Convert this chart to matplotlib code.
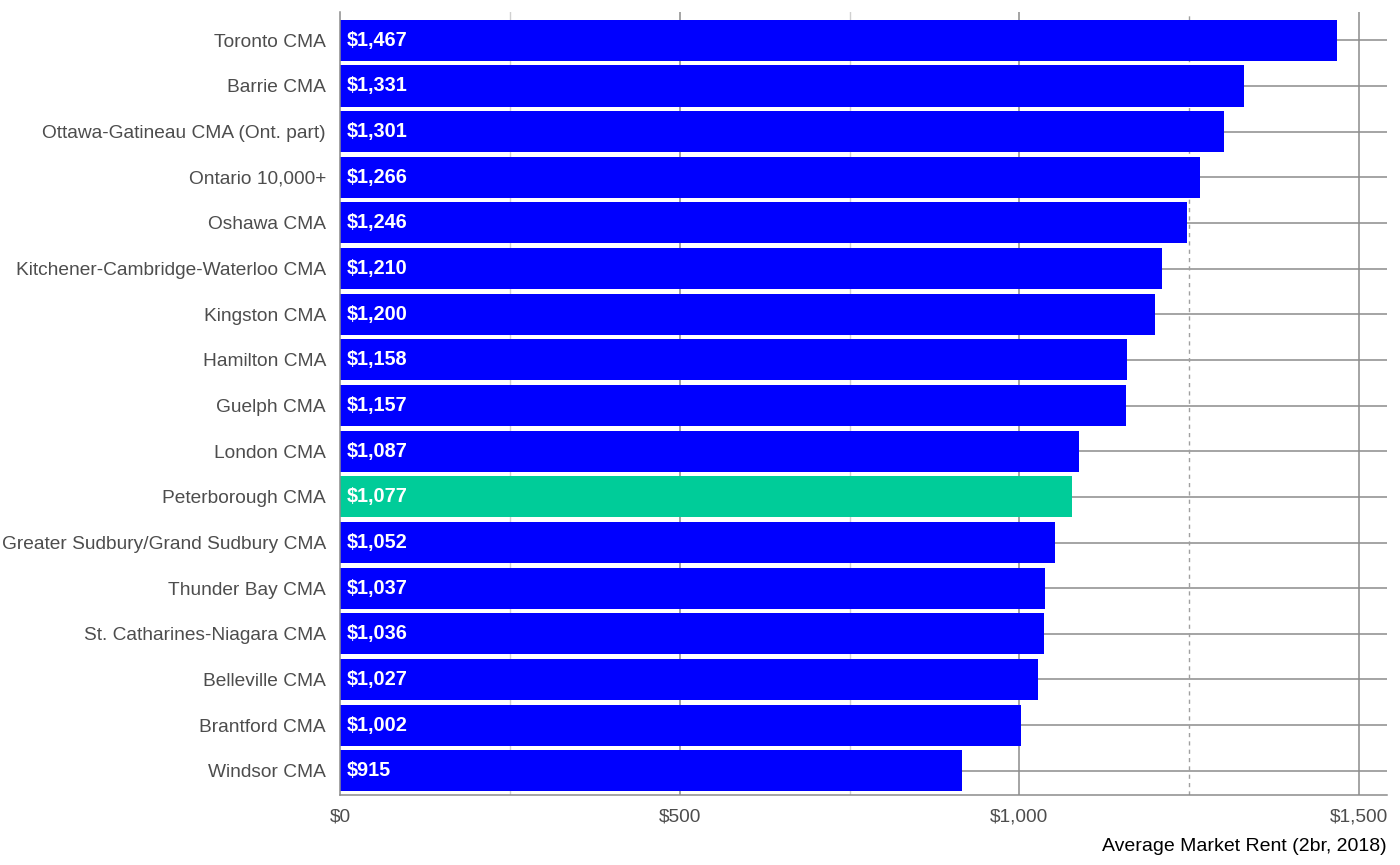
import matplotlib.pyplot as plt
import numpy as np

plt.rcParams["font.family"] = ["Liberation Sans", "DejaVu Sans"]

regions = [
    "Toronto CMA", "Barrie CMA", "Ottawa-Gatineau CMA (Ont. part)", "Ontario 10,000+",
    "Oshawa CMA", "Kitchener-Cambridge-Waterloo CMA", "Kingston CMA", "Hamilton CMA",
    "Guelph CMA", "London CMA", "Peterborough CMA", "Greater Sudbury/Grand Sudbury CMA",
    "Thunder Bay CMA", "St. Catharines-Niagara CMA", "Belleville CMA", "Brantford CMA",
    "Windsor CMA",
]
rents = [1467, 1331, 1301, 1266, 1246, 1210, 1200, 1158, 1157, 1087, 1077, 1052,
         1037, 1036, 1027, 1002, 915]
highlight = "Peterborough CMA"
major_ticks = [0, 500, 1000, 1500]
minor_ticks = [250, 750]
ref_line = 1250

fig = plt.figure(figsize=(14, 8.65), dpi=100)
ax = fig.add_axes([340 / 1400, 1 - 795 / 865, (1387 - 340) / 1400, (795 - 12) / 865])

y = np.arange(len(regions))
colors = ["#00CC99" if r == highlight else "#0000FF" for r in regions]

# grid first, behind the bars
for yy in y:
    ax.axhline(yy, color="#8c8c8c", lw=1.1, zorder=0)
for t in major_ticks[1:]:
    ax.axvline(t, color="#8c8c8c", lw=1.1, zorder=0)
for t in minor_ticks:
    ax.axvline(t, color="#d0d0d0", lw=1.0, zorder=0)
ax.axvline(ref_line, color="#a0a0a0", lw=1.0, ls=(0, (3, 3)), zorder=0)

ax.barh(y, rents, height=0.9, color=colors, zorder=2)
for yy, v in zip(y, rents):
    ax.text(10, yy, f"${v:,}", color="white", fontweight="bold", fontsize=14.3,
            va="center", ha="left", zorder=3)

ax.set_xlim(0, 1541)
ax.set_ylim(len(regions) - 1 + 0.53, -0.62)
ax.set_yticks(y)
ax.set_yticklabels(regions, fontsize=13.8, color="#4d4d4d")
ax.set_xticks(major_ticks)
ax.set_xticklabels([f"${t:,}" for t in major_ticks], fontsize=13.8, color="#4d4d4d")
ax.tick_params(axis="x", length=0, pad=10)
ax.tick_params(axis="y", length=0, pad=10)

for side in ["top", "right"]:
    ax.spines[side].set_visible(False)
for side in ["left", "bottom"]:
    ax.spines[side].set_color("#8c8c8c")
    ax.spines[side].set_linewidth(1.1)

ax.set_xlabel("Average Market Rent (2br, 2018)", fontsize=14, color="black", loc="right",
              labelpad=9)

fig.savefig("out.png", dpi=100)
